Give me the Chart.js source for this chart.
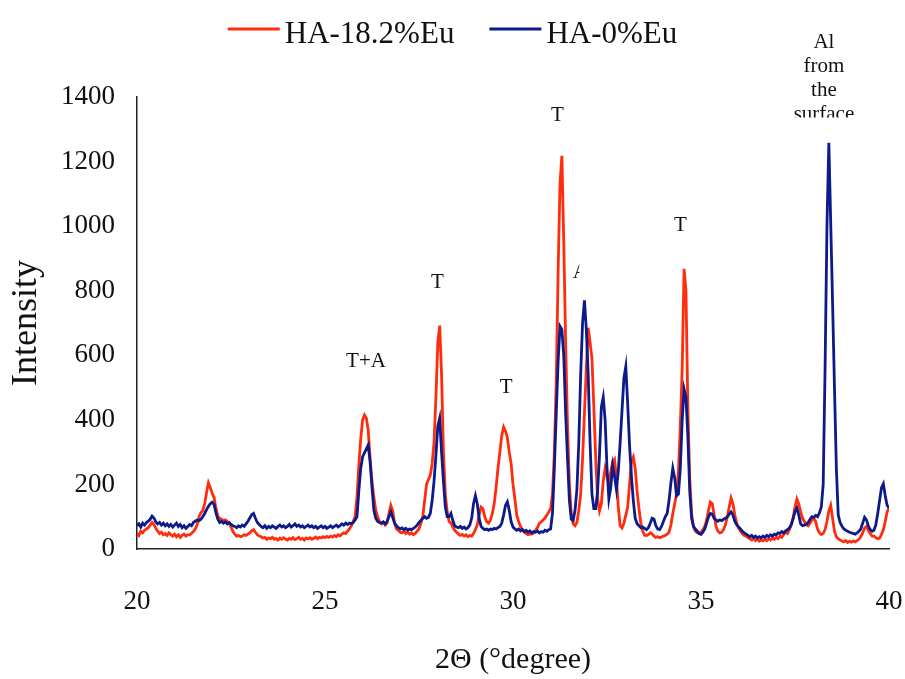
<!DOCTYPE html>
<html>
<head>
<meta charset="utf-8">
<title>XRD patterns: HA-18.2%Eu vs HA-0%Eu</title>
<script src="https://cdn.jsdelivr.net/npm/chart.js@4.4.1/dist/chart.umd.min.js"></script>
<style>
  html, body { margin: 0; padding: 0; background: #ffffff; }
  #wrap { width: 905px; height: 679px; }
</style>
</head>
<body>
<div id="wrap"><canvas id="xrd" width="905" height="679"></canvas></div>
<script>
// Diffraction angle grid: 2θ from 20° to 40°, 0.05° step (401 points).
const THETA_START = 20;
const THETA_STEP = 0.05;
const THETA_COUNT = 401;

// Intensity of the Eu-doped sample, one row per degree (20 values each).
const ha182Eu = [
  48, 42, 55, 50, 58, 62, 66, 74, 82, 76, 64, 55, 48, 52, 44, 48, 42, 50, 44, 40,          // 20°
  46, 38, 44, 36, 42, 46, 40, 44, 44, 48, 54, 62, 75, 100, 112, 120, 140, 175, 205, 190,  // 21°
  172, 160, 125, 102, 95, 92, 88, 90, 85, 80, 68, 55, 46, 40, 42, 38, 40, 44, 42, 46,     // 22°
  50, 56, 60, 52, 44, 40, 38, 34, 36, 30, 34, 32, 36, 30, 33, 28, 34, 30, 35, 31,         // 23°
  28, 33, 30, 35, 29, 32, 36, 30, 33, 28, 34, 31, 35, 30, 33, 37, 32, 36, 34, 38,         // 24°
  35, 39, 36, 40, 37, 42, 38, 44, 41, 46, 50, 48, 55, 62, 72, 85, 100, 160, 260, 340,     // 25°
  400, 415, 405, 368, 280, 210, 160, 120, 100, 85, 78, 82, 74, 80, 110, 135, 118, 80, 62, 58, // 26°
  52, 50, 55, 48, 52, 46, 50, 44, 48, 55, 62, 80, 100, 150, 200, 215, 228, 265, 330, 470, // 27°
  640, 692, 540, 300, 170, 115, 85, 80, 68, 58, 52, 46, 42, 45, 40, 44, 38, 42, 40, 48,   // 28°
  60, 75, 105, 130, 125, 100, 85, 80, 90, 110, 140, 190, 250, 300, 350, 378, 365, 345, 300, 265, // 29°
  200, 155, 105, 85, 70, 60, 52, 48, 44, 46, 46, 50, 58, 66, 80, 84, 90, 96, 105, 115,    // 30°
  125, 170, 300, 520, 860, 1130, 1218, 950, 640, 380, 200, 110, 78, 72, 82, 120, 170, 280, 420, 560, // 31°
  685, 640, 590, 440, 280, 155, 118, 140, 210, 250, 225, 205, 240, 270, 278, 220, 130, 72, 65, 80, // 32°
  105, 130, 200, 270, 285, 250, 180, 125, 80, 55, 43, 42, 45, 50, 46, 40, 36, 38, 35, 37, // 33°
  40, 42, 46, 52, 75, 110, 140, 170, 240, 380, 560, 868, 800, 440, 220, 110, 68, 55, 50, 48, // 34°
  52, 60, 70, 90, 120, 145, 140, 105, 70, 55, 50, 52, 60, 75, 100, 130, 158, 140, 105, 80, // 35°
  65, 55, 48, 42, 40, 35, 32, 28, 33, 26, 30, 24, 28, 25, 30, 26, 32, 28, 34, 30,         // 36°
  36, 32, 40, 36, 45, 52, 48, 60, 75, 95, 130, 155, 140, 115, 95, 85, 76, 72, 80, 90,     // 37°
  95, 85, 62, 50, 45, 48, 60, 85, 118, 135, 95, 55, 38, 32, 28, 25, 22, 26, 20, 24,       // 38°
  21, 25, 22, 26, 30, 38, 50, 65, 70, 58, 48, 40, 40, 35, 32, 34, 45, 60, 85, 115,        // 39°
  128                                                                                      // 40°
];

// Intensity of the undoped sample, same grid.
const ha0Eu = [
  72, 78, 68, 80, 74, 82, 86, 92, 102, 96, 84, 78, 82, 74, 80, 72, 78, 70, 76, 68,        // 20°
  74, 80, 70, 76, 66, 72, 64, 70, 76, 72, 82, 86, 90, 88, 92, 100, 110, 122, 132, 140,    // 21°
  145, 138, 112, 92, 82, 86, 80, 84, 78, 82, 76, 72, 70, 66, 72, 68, 74, 70, 78, 86,      // 22°
  96, 106, 110, 95, 82, 76, 70, 66, 72, 64, 70, 66, 72, 68, 64, 70, 74, 68, 72, 66,       // 23°
  70, 76, 68, 72, 78, 70, 74, 68, 72, 66, 70, 74, 68, 72, 66, 70, 64, 68, 72, 66,         // 24°
  70, 64, 68, 72, 66, 70, 74, 68, 72, 78, 74, 80, 76, 80, 78, 82, 90, 100, 180, 250,      // 25°
  285, 298, 310, 322, 270, 190, 120, 95, 85, 82, 80, 84, 78, 85, 100, 115, 98, 80, 72, 66, // 26°
  62, 65, 60, 64, 58, 62, 60, 64, 68, 74, 82, 88, 95, 100, 95, 98, 110, 150, 210, 290,    // 27°
  380, 405, 300, 210, 130, 100, 100, 110, 88, 72, 68, 66, 70, 64, 68, 62, 66, 74, 95, 140, // 28°
  165, 140, 95, 70, 64, 60, 62, 58, 62, 60, 64, 62, 66, 70, 80, 105, 135, 146, 120, 85,   // 29°
  68, 62, 58, 62, 56, 60, 54, 58, 52, 56, 50, 54, 52, 56, 50, 54, 52, 58, 55, 60,         // 30°
  62, 110, 250, 420, 580, 690, 680, 600, 420, 280, 150, 92, 88, 120, 185, 330, 540, 700, 770, 680, // 31°
  540, 330, 170, 125, 125, 180, 290, 440, 470, 400, 250, 155, 190, 258, 225, 185, 240, 330, 430, 530, // 32°
  565, 450, 320, 225, 150, 95, 78, 72, 66, 68, 64, 60, 66, 80, 95, 92, 72, 62, 60, 70,    // 33°
  85, 100, 110, 150, 205, 250, 220, 165, 170, 250, 400, 495, 470, 350, 180, 95, 70, 62, 55, 48, // 34°
  45, 52, 62, 80, 100, 110, 108, 95, 90, 86, 90, 88, 92, 95, 100, 108, 115, 105, 85, 75,  // 35°
  68, 62, 55, 50, 46, 42, 38, 42, 36, 40, 34, 38, 34, 40, 36, 42, 38, 44, 40, 46,         // 36°
  44, 50, 48, 54, 50, 56, 60, 65, 75, 95, 115, 127, 105, 78, 72, 74, 76, 82, 92, 100,     // 37°
  98, 104, 100, 112, 130, 200, 560, 1000, 1258, 1010, 760, 500, 250, 105, 82, 70, 62, 58, 55, 52, // 38°
  50, 48, 46, 50, 55, 62, 80, 98, 90, 72, 60, 55, 58, 75, 110, 150, 190, 202, 165, 135,   // 39°
  128                                                                                      // 40°
];

const seriesNames = ['HA-18.2%Eu', 'HA-0%Eu'];
const xTickStep = 5;
const yTickStep = 200;

// Phase labels placed in data coordinates (2θ, intensity).
const phaseLabels = [
  { text: 'T+A', theta: 26.09, at: 580 },
  { text: 'T', theta: 27.99, at: 827 },
  { text: 'T', theta: 29.82, at: 500 },
  { text: 'T', theta: 31.18, at: 1344 },
  { text: 'T', theta: 34.45, at: 1003 }
];

const thetaValues = [];
for (let i = 0; i < THETA_COUNT; i++) {
  thetaValues.push(+(THETA_START + i * THETA_STEP).toFixed(2));
}

const SERIF = '"Liberation Serif", "Times New Roman", serif';
const RED = '#ff2d0d';
const NAVY = '#0c1a8a';

// Legend row and phase annotations drawn on top of the plot.
const overlay = {
  id: 'overlay',
  afterDraw(chart) {
    const ctx = chart.ctx;
    const xs = chart.scales.x, ys = chart.scales.y;
    ctx.save();

    // legend
    ctx.font = '31px ' + SERIF;
    ctx.textBaseline = 'middle';
    ctx.textAlign = 'left';
    const lineLen = 52, gap = 5, itemGap = 35;
    const items = chart.data.datasets.map(ds => ({
      label: ds.label, color: ds.borderColor, w: ctx.measureText(ds.label).width
    }));
    let total = 0;
    items.forEach((it, i) => { total += lineLen + gap + it.w + (i ? itemGap : 0); });
    let x = chart.width / 2 - total / 2;
    items.forEach((it, i) => {
      if (i) x += itemGap;
      ctx.strokeStyle = it.color;
      ctx.lineWidth = 3;
      ctx.beginPath();
      ctx.moveTo(x, 29);
      ctx.lineTo(x + lineLen, 29);
      ctx.stroke();
      x += lineLen + gap;
      ctx.fillStyle = '#111';
      ctx.fillText(it.label, x, 35);
      x += it.w;
    });

    // phase markers
    ctx.font = '21px ' + SERIF;
    ctx.textAlign = 'center';
    ctx.fillStyle = '#111';
    phaseLabels.forEach(p => {
      ctx.fillText(p.text, xs.getPixelForValue(p.theta), ys.getPixelForValue(p.at));
    });

    // partially hidden "A" next to the 31.3° reflection
    ctx.save();
    const ax = xs.getPixelForValue(31.71), ay = ys.getPixelForValue(855);
    ctx.beginPath();
    ctx.rect(ax - 20, ay - 20, 22, 40);
    ctx.clip();
    ctx.fillText('A', ax + 3, ay);
    ctx.restore();

    // aluminium substrate note above the 38.4° peak, cut at its lower edge
    ctx.save();
    const alX = xs.getPixelForValue(38.27);
    ctx.beginPath();
    ctx.rect(alX - 60, 0, 120, 117.5);
    ctx.clip();
    ['Al', 'from', 'the', 'surface'].forEach((t, i) => {
      ctx.fillText(t, alX, 42 + i * 24.3);
    });
    ctx.restore();

    ctx.restore();
  }
};

new Chart(document.getElementById('xrd'), {
  type: 'line',
  data: {
    labels: thetaValues,
    datasets: [
      { label: seriesNames[0], data: ha182Eu, borderColor: RED, backgroundColor: RED,
        borderWidth: 2.8, pointRadius: 0, tension: 0, order: 1 },
      { label: seriesNames[1], data: ha0Eu, borderColor: NAVY, backgroundColor: NAVY,
        borderWidth: 2.8, pointRadius: 0, tension: 0, order: 0 }
    ]
  },
  options: {
    responsive: false,
    animation: false,
    events: [],
    layout: { padding: { left: 0, right: 16, top: 97, bottom: 0 } },
    plugins: { legend: { display: false }, tooltip: { enabled: false } },
    scales: {
      x: {
        type: 'linear', min: 20, max: 40,
        ticks: { stepSize: xTickStep, color: '#111', font: { family: SERIF, size: 27 }, padding: 1, maxRotation: 0,
                 callback: v => String(v) },
        grid: { display: false, drawTicks: true, tickLength: 36 },
        border: { display: true, color: '#222', width: 1.5 },
        title: { display: true, text: '2Θ (°degree)', color: '#111', font: { family: SERIF, size: 30 }, padding: { top: 0, bottom: 1 } },
        afterFit(scale) { scale.height = 130; }
      },
      y: {
        min: 0, max: 1400,
        ticks: { stepSize: yTickStep, color: '#111', font: { family: SERIF, size: 27 }, padding: 1,
                 callback: v => String(v) },
        grid: { display: false, drawTicks: true, tickLength: 21 },
        border: { display: true, color: '#222', width: 1.5 },
        title: { display: true, text: 'Intensity', color: '#111', font: { family: SERIF, size: 36 }, padding: { top: 5, bottom: 0 } },
        afterFit(scale) { scale.width = 137; }
      }
    }
  },
  plugins: [overlay]
});
</script>
</body>
</html>
